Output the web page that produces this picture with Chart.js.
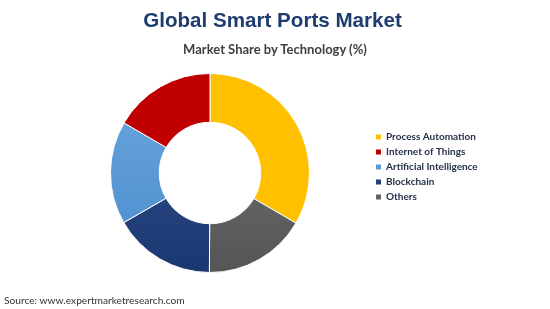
<!DOCTYPE html>
<html>
<head>
<meta charset="utf-8">
<script src="https://cdn.jsdelivr.net/npm/chart.js@4.4.1/dist/chart.umd.min.js"></script>
<style>
html,body{margin:0;padding:0;background:#ffffff;}
#wrap{position:relative;width:550px;height:309px;overflow:hidden;background:#fff;}
#c{position:absolute;left:0;top:0;}
.t{position:absolute;white-space:nowrap;}
#title{left:-2.5px;width:550px;text-align:center;top:8px;line-height:24px;font-weight:bold;font-size:20.6px;font-family:"Liberation Sans",Arial,sans-serif;color:#1f3c6e;}
#subtitle{left:0;width:550px;text-align:center;top:41px;line-height:16px;font-weight:bold;font-size:13px;font-family:Lato,"Open Sans",sans-serif;color:#404040;}
#source{left:4px;top:293px;line-height:14px;font-size:10.2px;font-family:Lato,"Open Sans",sans-serif;color:#333333;}
</style>
</head>
<body>
<div id="wrap">
  <canvas id="c" width="550" height="309"></canvas>
  <div class="t" id="title">Global Smart Ports Market</div>
  <div class="t" id="subtitle">Market Share by Technology (%)</div>
  <div class="t" id="source">Source: www.expertmarketresearch.com</div>
</div>
<script>
// ---- data ----
const categories = ['Process Automation', 'Internet of Things', 'Artificial Intelligence', 'Blockchain', 'Others'];
const shares = [33.4, 16.6, 16.7, 16.6, 16.7];
// order in which the slices appear clockwise from 12 o'clock (indexes into categories)
const drawOrder = [0, 4, 3, 2, 1];

// ---- styles ----
const gradientStops = {
  'Process Automation': ['#FFC000', '#FFC000'],
  'Internet of Things': ['#C00000', '#C00000'],
  'Artificial Intelligence': ['#6BA8E0', '#4A8BCB'],
  'Blockchain': ['#3A5694', '#1B3771'],
  'Others': ['#777777', '#555555']
};
const solidColors = {
  'Process Automation': '#FFC000',
  'Internet of Things': '#C00000',
  'Artificial Intelligence': '#5B9BD5',
  'Blockchain': '#264478',
  'Others': '#636363'
};

const labels = drawOrder.map(i => categories[i]);
const values = drawOrder.map(i => shares[i]);

const legendFontSize = 10;
const legendFont = {family: 'Lato, "Open Sans", sans-serif', size: legendFontSize, weight: 'bold'};
const boxW = 5, labPad = 5;

// measure widest legend label to place legend
const mctx = document.createElement('canvas').getContext('2d');
mctx.font = 'bold ' + legendFontSize + 'px Lato, "Open Sans", sans-serif';
let maxTextW = 0;
categories.forEach(c => { maxTextW = Math.max(maxTextW, mctx.measureText(c).width); });
const legendLeft = 376 - labPad;
const legendW = labPad + (boxW + legendFontSize / 2 + maxTextW) + 10;
const padRight = 550 - legendLeft - legendW;
const centerX = 210;
const padLeft = 2 * centerX - legendLeft;

const legendShift = {
  id: 'legendShift',
  afterLayout(chart) {
    const lg = chart.legend;
    if (lg) { lg.top -= 6; lg.bottom -= 6; }
  }
};

function bg(ctx) {
  const chart = ctx.chart;
  const name = labels[ctx.dataIndex];
  const area = chart.chartArea;
  if (!area) return solidColors[name];
  const cy = (area.top + area.bottom) / 2;
  const r = Math.min(area.right - area.left, area.bottom - area.top) / 2;
  const g = chart.ctx.createLinearGradient(0, cy - r, 0, cy + r);
  const s = gradientStops[name];
  g.addColorStop(0, s[0]);
  g.addColorStop(1, s[1]);
  return g;
}

new Chart(document.getElementById('c'), {
  type: 'doughnut',
  data: {
    labels: labels,
    datasets: [{
      data: values,
      backgroundColor: bg,
      borderColor: '#ffffff',
      borderWidth: 1,
      hoverOffset: 0
    }]
  },
  options: {
    responsive: false,
    animation: false,
    devicePixelRatio: 1,
    cutout: '51%',
    layout: {padding: {top: 73, bottom: 36, left: padLeft, right: padRight}},
    plugins: {
      title: {display: false},
      tooltip: {enabled: false},
      legend: {
        position: 'right',
        align: 'center',
        labels: {
          boxWidth: boxW,
          boxHeight: 5,
          padding: labPad,
          color: '#27314a',
          font: legendFont,
          sort: (a, b) => drawOrder[a.index] - drawOrder[b.index],
          generateLabels: (chart) => {
            const items = Chart.controllers.doughnut.overrides.plugins.legend.labels.generateLabels(chart);
            items.forEach(it => {
              it.lineWidth = 0;
              it.strokeStyle = 'rgba(0,0,0,0)';
              it.fillStyle = solidColors[labels[it.index]];
            });
            return items;
          }
        }
      }
    }
  },
  plugins: [legendShift]
});
</script>
</body>
</html>
